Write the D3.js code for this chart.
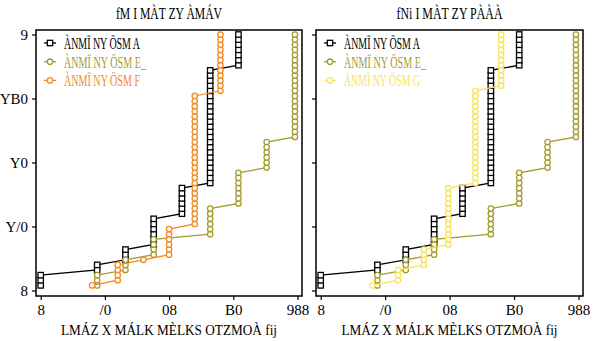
<!DOCTYPE html>
<html>
<head>
<meta charset="utf-8">
<script src="https://cdn.jsdelivr.net/npm/d3@7"></script>
<style>
  body { margin: 0; background: #fff; }
  svg text { font-family: "Liberation Serif", serif; fill: #000; }
</style>
</head>
<body>
<div id="chart"></div>
<script>
var width = 594, height = 341;
var nObs = 50;

// tick values and labels
var xTicks = [0, 25, 50, 75, 100];
var xTickLabels = ["8", "/0", "08", "B0", "988"];
var yTicks = [0, 0.25, 0.5, 0.75, 1];
var yTickLabels = ["8", "Y/0", "Y0", "YB0", "9"];

// panel texts
var panelTitles = ["fM I MÀT ZY ÀMÁV", "fNi I MÀT ZY PÀÀÀ"];
var xTitle = "LMÁZ X MÁLK MÈLKS OTZMOÀ fij";

// series: distinct values and how many observations sit at each
var valsA = [0, 22, 33, 44, 55, 66, 77];
var cntA = [3, 2, 3, 6, 6, 23, 7];
var valsE = [22, 33, 44, 66, 77, 88, 99];
var cntE = [3, 3, 4, 6, 7, 6, 21];
var valsF = [20, 30, 40, 50, 60, 70];
var cntF = [1, 4, 1, 6, 26, 12];
var valsG = [20, 30, 40, 49.5, 60, 70];
var cntG = [1, 3, 4, 12, 19, 11];

var labelA = "ÀNMÏ NY ÖSM A";
var labelE = "ÀNMÏ NY ÖSM E_";
var labelF = "ÀNMÏ NY ÖSM F";
var labelG = "ÀNMÏ NY ÖSM G";

// cumulative share at each observation
function ecdf(vals, cnts) {
  var pts = [], k = 0;
  vals.forEach(function(v, i) {
    for (var j = 0; j < cnts[i]; j++) {
      k++;
      pts.push({x: v, y: k / nObs});
    }
  });
  return pts;
}

var black = "#000000", olive = "#a69d30", orange = "#f38c22", yellow = "#f9e45a";

var panels = [
  {left: 36, right: 302, title: panelTitles[0], showY: true,
   series: [
     {pts: ecdf(valsA, cntA), color: black, shape: "square", label: labelA},
     {pts: ecdf(valsE, cntE), color: olive, shape: "circle", label: labelE},
     {pts: ecdf(valsF, cntF), color: orange, shape: "circle", label: labelF}
   ]},
  {left: 316, right: 583, title: panelTitles[1], showY: false,
   series: [
     {pts: ecdf(valsA, cntA), color: black, shape: "square", label: labelA},
     {pts: ecdf(valsE, cntE), color: olive, shape: "circle", label: labelE},
     {pts: ecdf(valsG, cntG), color: yellow, shape: "circle", label: labelG}
   ]}
];

var plotTop = 30, plotBottom = 296;

var svg = d3.select("#chart")
  .append("svg")
  .attr("width", width)
  .attr("height", height);

function drawMarker(g, shape, color, x, y) {
  if (shape === "square") {
    g.append("rect")
      .attr("x", x - 2.7).attr("y", y - 2.7)
      .attr("width", 5.4).attr("height", 5.4)
      .attr("fill", "#fff").attr("stroke", color).attr("stroke-width", 1.3);
  } else {
    g.append("circle")
      .attr("cx", x).attr("cy", y).attr("r", 2.7)
      .attr("fill", "#fff").attr("stroke", color).attr("stroke-width", 1.3);
  }
}

panels.forEach(function(p) {
  var xScale = d3.scaleLinear()
    .domain([0, 100])
    .range([p.left + 4.7, p.right - 4.5]);
  var yScale = d3.scaleLinear()
    .domain([0, 1])
    .range([290.5, 34.5]);

  // X axis
  var xAxis = d3.axisBottom(xScale)
    .tickValues(xTicks)
    .tickSize(4)
    .tickPadding(4)
    .tickFormat(function(d, i) { return xTickLabels[i]; });
  var gx = svg.append("g")
    .attr("transform", "translate(0," + plotBottom + ")")
    .call(xAxis);
  gx.select(".domain").remove();
  gx.selectAll(".tick line").attr("stroke", "#000").attr("stroke-width", 1.2);
  gx.selectAll(".tick text")
    .style("font-family", "Liberation Serif")
    .style("font-size", "15px");

  // Y axis
  var yAxis = d3.axisLeft(yScale)
    .tickValues(yTicks)
    .tickSize(4)
    .tickPadding(4)
    .tickFormat(function(d, i) { return p.showY ? yTickLabels[i] : ""; });
  var gy = svg.append("g")
    .attr("transform", "translate(" + p.left + ",0)")
    .call(yAxis);
  gy.select(".domain").remove();
  gy.selectAll(".tick line").attr("stroke", "#000").attr("stroke-width", 1.2);
  gy.selectAll(".tick text")
    .style("font-family", "Liberation Serif")
    .style("font-size", "15px");

  // series
  var line = d3.line()
    .x(function(d) { return xScale(d.x); })
    .y(function(d) { return yScale(d.y); });

  p.series.forEach(function(s) {
    svg.append("path")
      .datum(s.pts)
      .attr("d", line)
      .attr("fill", "none")
      .attr("stroke", s.color)
      .attr("stroke-width", 1.3);
    var mg = svg.append("g");
    s.pts.forEach(function(d) {
      drawMarker(mg, s.shape, s.color, xScale(d.x), yScale(d.y));
    });
  });

  // frame
  svg.append("rect")
    .attr("x", p.left).attr("y", plotTop)
    .attr("width", p.right - p.left).attr("height", plotBottom - plotTop)
    .attr("fill", "none").attr("stroke", "#000").attr("stroke-width", 1.5);

  // legend
  p.series.forEach(function(s, i) {
    var ly = 43 + i * 18.7;
    var lg = svg.append("g");
    lg.append("line")
      .attr("x1", p.left + 8).attr("x2", p.left + 20)
      .attr("y1", ly).attr("y2", ly)
      .attr("stroke", s.color).attr("stroke-width", 1.3);
    drawMarker(lg, s.shape, s.color, p.left + 14, ly);
    lg.append("text")
      .attr("x", p.left + 28).attr("y", ly + 6)
      .attr("textLength", s.label.length > 13 ? 82 : 76)
      .attr("lengthAdjust", "spacingAndGlyphs")
      .style("font-size", "17px")
      .style("fill", s.color)
      .text(s.label);
  });

  var cx = (p.left + p.right) / 2;
  // title
  svg.append("text")
    .attr("x", cx).attr("y", 19)
    .attr("text-anchor", "middle")
    .attr("textLength", 106)
    .attr("lengthAdjust", "spacingAndGlyphs")
    .style("font-size", "17px")
    .text(p.title);

  // x title
  svg.append("text")
    .attr("x", cx).attr("y", 335)
    .attr("text-anchor", "middle")
    .attr("textLength", 216)
    .attr("lengthAdjust", "spacingAndGlyphs")
    .style("font-size", "15px")
    .text(xTitle);
});
</script>
</body>
</html>
